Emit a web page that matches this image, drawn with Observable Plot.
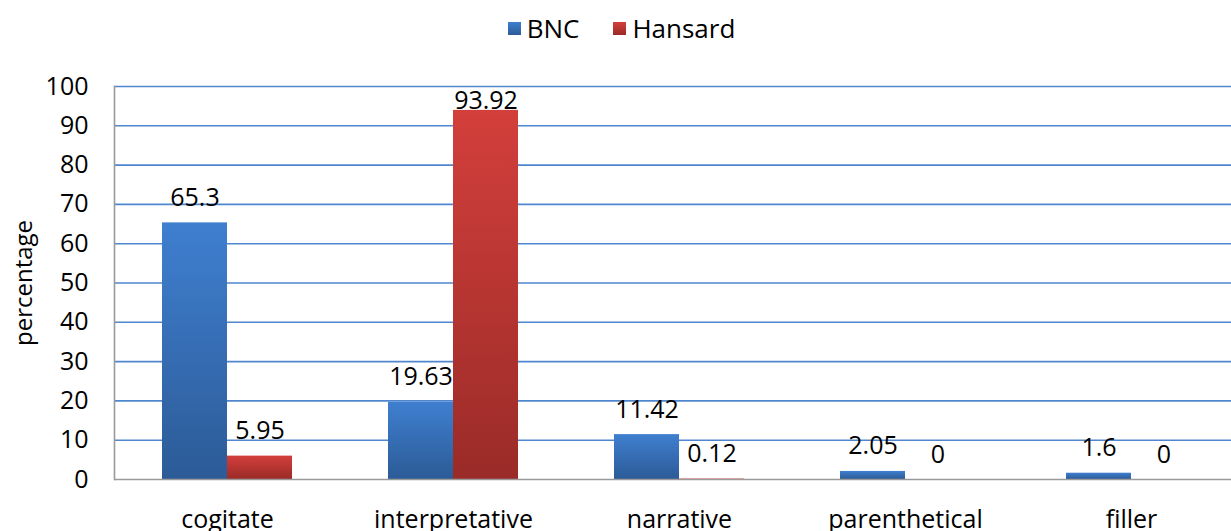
<!DOCTYPE html>
<html>
<head>
<meta charset="utf-8">
<script src="https://cdn.jsdelivr.net/npm/d3@7"></script>
<script src="https://cdn.jsdelivr.net/npm/@observablehq/plot@0.6"></script>
<style>
  html, body { margin: 0; padding: 0; background: #fff; overflow: hidden; }
  body { width: 1231px; height: 531px; font-family: "Open Sans", "Noto Sans", sans-serif; }
  #legend { height: 60px; display: flex; justify-content: center; align-items: center; gap: 34px; font-size: 26px; color: #000; padding-left: 12px; padding-bottom: 4px; box-sizing: border-box; }
  #legend .item { display: flex; align-items: center; gap: 6px; }
  #legend .sw { width: 13px; height: 13px; display: inline-block; }
</style>
</head>
<body>
<div id="legend"></div>
<div id="chart"></div>
<script>
const categories = ["cogitate", "interpretative", "narrative", "parenthetical", "filler"];
const seriesNames = ["BNC", "Hansard"];
const bncValues = [65.3, 19.63, 11.42, 2.05, 1.6];
const hansardValues = [5.95, 93.92, 0.12, 0, 0];
const yTicks = [0, 10, 20, 30, 40, 50, 60, 70, 80, 90, 100];
const seriesColors = {BNC: ["#3f7fd0", "#2c5b97"], Hansard: ["#d33f3b", "#9a2b28"]};

const bnc = categories.map((c, i) => ({category: c, series: "BNC", value: bncValues[i]}));
const hansard = categories.map((c, i) => ({category: c, series: "Hansard", value: hansardValues[i]}));

// Legend
const legend = document.getElementById("legend");
for (const s of seriesNames) {
  const it = document.createElement("span");
  it.className = "item";
  const sw = document.createElement("span");
  sw.className = "sw";
  sw.style.background = `linear-gradient(${seriesColors[s][0]}, ${seriesColors[s][1]})`;
  const t = document.createElement("span");
  t.textContent = s;
  it.append(sw, t);
  legend.append(it);
}

const font = "Open Sans";
const labelY = d => Math.min(d.value, 90);

const plot = Plot.plot({
  width: 1231,
  height: 471,
  marginTop: 26,
  marginBottom: 52,
  marginLeft: 114,
  marginRight: 0,
  style: {fontFamily: font, fontSize: "25px", color: "#000", background: "#fff", overflow: "hidden"},
  x: {type: "band", domain: categories, range: [114, 1244], paddingInner: 0.425, paddingOuter: 0.2125, align: 0.5},
  y: {domain: [0, 100]},
  marks: [
    Plot.ruleY(yTicks.filter(v => v > 0), {stroke: "#4f86cf", strokeWidth: 1.6}),
    Plot.barY(bnc, {x: "category", y: "value", fill: "url(#gradBNC)", insetRight: 65}),
    Plot.barY(hansard, {x: "category", y: "value", fill: "url(#gradHansard)", insetLeft: 65}),
    Plot.ruleY([0], {stroke: "#9a9a9a", strokeWidth: 1.6}),
    Plot.frame({anchor: "left", stroke: "#9a9a9a", strokeWidth: 1.6}),
    Plot.text(bnc, {x: "category", y: labelY, text: d => String(d.value), dx: -32.5, dy: -25, fontSize: 25, fill: "#000"}),
    Plot.text(hansard, {x: "category", y: labelY, text: d => String(d.value), dx: 32.5, dy: -25, fontSize: 25, fill: "#000"}),
    Plot.axisY({ticks: yTicks, tickSize: 0, tickPadding: 26, fontSize: 25, label: null}),
    Plot.axisX({tickSize: 0, tickPadding: 31, fontSize: 25, label: null}),
    Plot.text(["percentage"], {frameAnchor: "left", textAnchor: "middle", dx: -90, rotate: -90, fontSize: 24, fill: "#000"})
  ]
});

// gradients for bars
const ns = "http://www.w3.org/2000/svg";
const defs = document.createElementNS(ns, "defs");
for (const s of seriesNames) {
  const g = document.createElementNS(ns, "linearGradient");
  g.setAttribute("id", "grad" + s);
  g.setAttribute("x1", "0"); g.setAttribute("y1", "0");
  g.setAttribute("x2", "0"); g.setAttribute("y2", "1");
  seriesColors[s].forEach((c, i) => {
    const st = document.createElementNS(ns, "stop");
    st.setAttribute("offset", i === 0 ? "0" : "1");
    st.setAttribute("stop-color", c);
    g.append(st);
  });
  defs.append(g);
}
plot.prepend(defs);
plot.style.maxWidth = "none";
document.getElementById("chart").append(plot);
</script>
</body>
</html>
